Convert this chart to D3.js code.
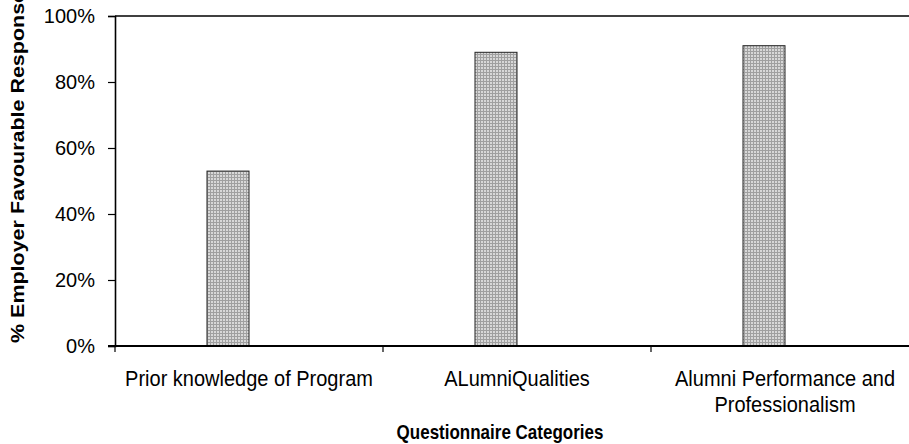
<!DOCTYPE html>
<html>
<head>
<meta charset="utf-8">
<script src="https://cdn.jsdelivr.net/npm/d3@7"></script>
<style>
  html, body { margin: 0; padding: 0; background: #fff; }
  svg { display: block; font-family: "Liberation Sans", Arial, sans-serif; }
</style>
</head>
<body>
<svg id="chart" width="909" height="444"></svg>
<script>
// Survey categories and the share of favourable employer responses
const categories = ["Prior knowledge of Program", "ALumniQualities", "Alumni Performance and\nProfessionalism"];
const favourable = [0.53, 0.89, 0.91];
const seriesKeys = ["Favourable", "Unfavourable"];
const yTicks = [0, 0.2, 0.4, 0.6, 0.8, 1.0];

const svg = d3.select("#chart");
const m = { left: 115, top: 16, right: 919, bottom: 346 };

// Pattern fill for the bars
const defs = svg.append("defs");
const pat = defs.append("pattern")
  .attr("id", "dots").attr("patternUnits", "userSpaceOnUse")
  .attr("width", 3).attr("height", 3);
pat.append("rect").attr("width", 3).attr("height", 3).attr("fill", "#d8d8d8");
pat.append("rect").attr("x", 0).attr("y", 0).attr("width", 3).attr("height", 1).attr("fill", "#a0a0a0");
pat.append("rect").attr("x", 0).attr("y", 0).attr("width", 1).attr("height", 3).attr("fill", "#a0a0a0");

const x = d3.scaleBand().domain(categories).range([m.left, m.right]).padding(0);
const xs = d3.scaleBand().domain(seriesKeys).range([0, x.bandwidth()])
  .paddingInner(0).paddingOuter(2.19);
const y = d3.scaleLinear().domain([0, 1]).range([m.bottom, m.top]);

// Plot area frame (top edge visible)
svg.append("line")
  .attr("x1", m.left).attr("x2", 909).attr("y1", m.top).attr("y2", m.top)
  .attr("stroke", "#000").attr("stroke-width", 1.6);

// Bars
svg.append("g").selectAll("rect")
  .data(categories.map((c, i) => ({ c, v: favourable[i] })))
  .join("rect")
  .attr("x", d => x(d.c) + xs("Favourable"))
  .attr("width", xs.bandwidth())
  .attr("y", d => y(d.v))
  .attr("height", d => y(0) - y(d.v))
  .attr("fill", "url(#dots)")
  .attr("stroke", "#222").attr("stroke-width", 1);

// Y axis
const yAxis = svg.append("g").attr("transform", `translate(${m.left},0)`)
  .call(d3.axisLeft(y).tickValues(yTicks).tickFormat(d3.format(".0%")).tickSizeOuter(0).tickSize(7).tickPadding(13));
yAxis.select(".domain").attr("stroke", "#000").attr("stroke-width", 1.6);
yAxis.selectAll(".tick line").attr("stroke", "#000").attr("stroke-width", 1.2);
yAxis.selectAll(".tick text").attr("font-size", 20).attr("fill", "#000")
  .attr("font-family", "'Liberation Sans', Arial, sans-serif");

// X axis: ticks at category boundaries
const xAxisG = svg.append("g");
xAxisG.append("line")
  .attr("x1", m.left - 7).attr("x2", 909).attr("y1", m.bottom).attr("y2", m.bottom)
  .attr("stroke", "#000").attr("stroke-width", 1.8);
xAxisG.selectAll("line.tk")
  .data(categories)
  .join("line").attr("class", "tk")
  .attr("x1", d => x(d)).attr("x2", d => x(d))
  .attr("y1", m.bottom).attr("y2", m.bottom + 6)
  .attr("stroke", "#000").attr("stroke-width", 1.2);

// Category labels (slightly condensed type)
const lbl = svg.append("g").selectAll("text")
  .data(categories)
  .join("text")
  .attr("transform", d => `translate(${x(d) + x.bandwidth() / 2},386) scale(1,1.1)`)
  .attr("text-anchor", "middle")
  .attr("font-size", 20)
  .attr("fill", "#000");
lbl.each(function(d) {
  const t = d3.select(this);
  d.split("\n").forEach((ln, i) => {
    t.append("tspan").attr("x", 0).attr("dy", i === 0 ? 0 : 23.5).text(ln);
  });
});

// Axis titles
svg.append("text")
  .attr("transform", "translate(500,439) scale(1,1.2)")
  .attr("text-anchor", "middle")
  .attr("font-size", 17).attr("font-weight", "bold")
  .text("Questionnaire Categories");

svg.append("text")
  .attr("transform", "translate(24,343) rotate(-90)")
  .attr("text-anchor", "start")
  .attr("font-size", 18).attr("font-weight", "bold")
  .attr("textLength", 364).attr("lengthAdjust", "spacingAndGlyphs")
  .text("% Employer Favourable Responses");
</script>
</body>
</html>
